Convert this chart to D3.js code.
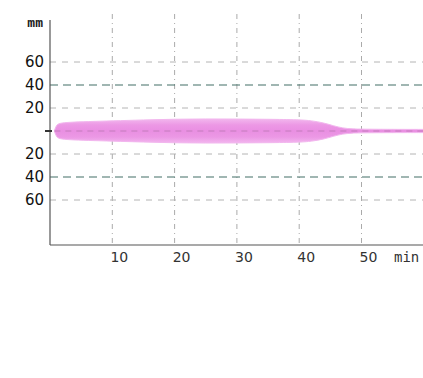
<!DOCTYPE html>
<html>
<head>
<meta charset="utf-8">
<script src="https://cdn.jsdelivr.net/npm/d3@7"></script>
<style>
  body { margin: 0; background: #fff; }
  svg { display: block; }
</style>
</head>
<body>
<svg id="chart" width="423" height="378"></svg>
<script>
// time (min) and half thickness of the band (mm)
const timeMin     = [0.7, 1, 1.5, 3, 6, 10, 15, 20, 25, 30, 35, 40, 42, 44, 45.5, 47, 48.5, 50, 55, 60];
const halfWidthMm = [0, 5, 6.8, 7.6, 8.2, 8.8, 9.6, 10.3, 10.5, 10.4, 10.2, 9.8, 9, 7, 4.5, 2.5, 1.8, 1.6, 1.4, 1.4];

const xTicks = [10, 20, 30, 40, 50];
const yTicks = [60, 40, 20, -20, -40, -60];

const svg = d3.select("#chart");

const x = d3.scaleLinear().domain([0, 60]).range([50, 423.8]);
const y = d3.scaleLinear().domain([-60, 60]).range([200, 62]);

const axisTop = 20, axisBottom = 245;

const band = timeMin.map((t, i) => ({ t, h: halfWidthMm[i] }));

// gradient for the pink band
const grad = svg.append("defs").append("linearGradient")
    .attr("id", "bandGrad")
    .attr("x1", 0).attr("y1", 0).attr("x2", 0).attr("y2", 1);
grad.append("stop").attr("offset", "0%").attr("stop-color", "#f2b6ee");
grad.append("stop").attr("offset", "25%").attr("stop-color", "#ec98e5");
grad.append("stop").attr("offset", "50%").attr("stop-color", "#e98fe2");
grad.append("stop").attr("offset", "75%").attr("stop-color", "#ec98e5");
grad.append("stop").attr("offset", "100%").attr("stop-color", "#f2b6ee");

// vertical grid
svg.append("g").selectAll("line")
    .data(xTicks)
    .join("line")
    .attr("x1", d => x(d)).attr("x2", d => x(d))
    .attr("y1", 14).attr("y2", axisBottom)
    .attr("stroke", "#aaa")
    .attr("stroke-width", 1)
    .attr("stroke-dasharray", "5,4,1,4");

// horizontal grid
svg.append("g").selectAll("line")
    .data(yTicks)
    .join("line")
    .attr("x1", x(0)).attr("x2", 423)
    .attr("y1", d => y(d)).attr("y2", d => y(d))
    .attr("stroke", d => Math.abs(d) === 40 ? "#426f66" : "#b4b4b4")
    .attr("stroke-width", d => Math.abs(d) === 40 ? 1.2 : 1)
    .attr("stroke-dasharray", d => Math.abs(d) === 40 ? "8,5" : "6,6");

// band
const area = d3.area()
    .x(d => x(d.t))
    .y0(d => y(-d.h))
    .y1(d => y(d.h))
    .curve(d3.curveBasis);

svg.append("path")
    .datum(band)
    .attr("d", area)
    .attr("fill", "url(#bandGrad)")
    .attr("stroke", "#f2b6ee")
    .attr("stroke-width", 1);

// centre line
svg.append("line")
    .attr("x1", x(0.7)).attr("x2", 423)
    .attr("y1", y(0)).attr("y2", y(0))
    .attr("stroke", "#c47cbc")
    .attr("stroke-width", 1)
    .attr("stroke-dasharray", "6,5");

// axes
svg.append("line")
    .attr("x1", x(0)).attr("x2", x(0))
    .attr("y1", axisTop).attr("y2", axisBottom)
    .attr("stroke", "#555").attr("stroke-width", 1.2);
svg.append("line")
    .attr("x1", x(0)).attr("x2", 423)
    .attr("y1", axisBottom).attr("y2", axisBottom)
    .attr("stroke", "#555").attr("stroke-width", 1.2);
svg.append("line")
    .attr("x1", x(0) - 5).attr("x2", x(0) + 2)
    .attr("y1", y(0)).attr("y2", y(0))
    .attr("stroke", "#333").attr("stroke-width", 2);

// y labels
svg.append("g").selectAll("text")
    .data(yTicks)
    .join("text")
    .attr("x", 44)
    .attr("y", d => y(d))
    .attr("dy", "0.36em")
    .attr("text-anchor", "end")
    .attr("font-family", "DejaVu Sans, sans-serif")
    .attr("font-size", 15)
    .attr("fill", "#111")
    .text(d => Math.abs(d));

svg.append("text")
    .attr("x", 43).attr("y", 27)
    .attr("text-anchor", "end")
    .attr("font-family", "DejaVu Sans Mono, monospace")
    .attr("font-weight", "bold")
    .attr("font-size", 13)
    .attr("fill", "#222")
    .text("mm");

// x labels
svg.append("g").selectAll("text")
    .data(xTicks)
    .join("text")
    .attr("x", d => x(d) + 7)
    .attr("y", 262)
    .attr("text-anchor", "middle")
    .attr("font-family", "DejaVu Sans, sans-serif")
    .attr("font-size", 14)
    .attr("fill", "#333")
    .text(d => d);

svg.append("text")
    .attr("x", 394).attr("y", 262)
    .attr("font-family", "DejaVu Sans Mono, monospace")
    .attr("font-size", 14)
    .attr("fill", "#333")
    .text("min");
</script>
</body>
</html>
